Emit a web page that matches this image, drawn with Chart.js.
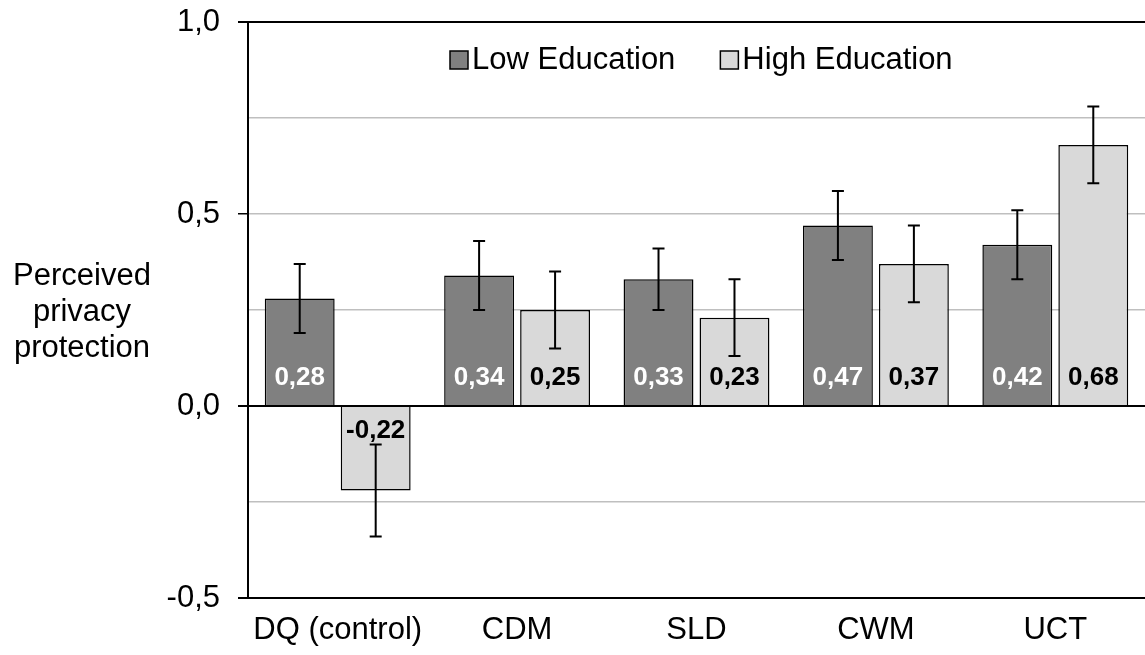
<!DOCTYPE html>
<html>
<head>
<meta charset="utf-8">
<script src="https://cdn.jsdelivr.net/npm/chart.js@4"></script>
<style>
  body { margin: 0; background: #fff; }
  #wrap { width: 1145px; height: 655px; }
</style>
</head>
<body>
<div id="wrap"><canvas id="chart"></canvas></div>
<script>
// valores
const categorias = ['DQ (control)', 'CDM', 'SLD', 'CWM', 'UCT'];
const lowEdu = [0.28, 0.34, 0.33, 0.47, 0.42];
const highEdu = [-0.22, 0.25, 0.23, 0.37, 0.68];
const lowErr = [0.09, 0.09, 0.08, 0.09, 0.09];
const highErr = [0.12, 0.10, 0.10, 0.10, 0.10];
const tituloY = ['Perceived', 'privacy', 'protection'];

const fonte = '"Liberation Sans", Arial, sans-serif';
const virgula = v => v.toFixed(2).replace('.', ',');

// barras de erro
const errorBars = {
    id: 'errorBars',
    afterDatasetsDraw(chart) {
        const ctx = chart.ctx;
        const y = chart.scales.y;
        ctx.save();
        ctx.strokeStyle = '#000';
        ctx.lineWidth = 2;
        chart.data.datasets.forEach((ds, i) => {
            chart.getDatasetMeta(i).data.forEach((bar, j) => {
                const v = ds.data[j], e = ds.err[j];
                const top = y.getPixelForValue(v + e);
                const bot = y.getPixelForValue(v - e);
                ctx.beginPath();
                ctx.moveTo(bar.x, top); ctx.lineTo(bar.x, bot);
                ctx.moveTo(bar.x - 6, top); ctx.lineTo(bar.x + 6, top);
                ctx.moveTo(bar.x - 6, bot); ctx.lineTo(bar.x + 6, bot);
                ctx.stroke();
            });
        });
        ctx.restore();
    }
};

// rótulos dentro das barras, junto ao zero
const valueLabels = {
    id: 'valueLabels',
    afterDraw(chart) {
        const ctx = chart.ctx;
        ctx.save();
        ctx.font = 'bold 26px ' + fonte;
        ctx.textAlign = 'center';
        ctx.textBaseline = 'middle';
        chart.data.datasets.forEach((ds, i) => {
            chart.getDatasetMeta(i).data.forEach((bar, j) => {
                const v = ds.data[j];
                ctx.fillStyle = i === 0 ? '#fff' : '#000';
                const yy = v >= 0 ? bar.base - 27 : bar.base + 24;
                ctx.fillText(virgula(v), bar.x, yy);
            });
        });
        ctx.restore();
    }
};

// legenda dentro da área do gráfico + título do eixo Y
const extras = {
    id: 'extras',
    afterDraw(chart) {
        const ctx = chart.ctx;
        ctx.save();
        ctx.font = '31px ' + fonte;
        ctx.textBaseline = 'middle';
        let x = 450;
        const ly = 60;
        chart.data.datasets.forEach(ds => {
            ctx.fillStyle = ds.backgroundColor;
            ctx.fillRect(x, ly - 9, 18, 18);
            ctx.strokeStyle = '#000';
            ctx.lineWidth = 1.5;
            ctx.strokeRect(x, ly - 9, 18, 18);
            ctx.fillStyle = '#000';
            ctx.fillText(ds.label, x + 22, ly);
            x += 22 + ctx.measureText(ds.label).width + 45;
        });
        ctx.font = '31px ' + fonte;
        ctx.textAlign = 'center';
        ctx.textBaseline = 'alphabetic';
        tituloY.forEach((t, k) => ctx.fillText(t, 82, 285 + k * 36));
        ctx.restore();
    }
};

const ehRotulo = v => Math.abs(v * 2 - Math.round(v * 2)) < 1e-9;
const ehPreta = v => Math.abs(v) < 1e-9 || Math.abs(v - 1) < 1e-9 || Math.abs(v + 0.5) < 1e-9;

new Chart(document.getElementById('chart'), {
    type: 'bar',
    data: {
        labels: categorias,
        datasets: [{
            label: 'Low Education',
            data: lowEdu,
            err: lowErr,
            backgroundColor: '#808080',
            borderColor: '#000',
            borderWidth: 1.5
        }, {
            label: 'High Education',
            data: highEdu,
            err: highErr,
            backgroundColor: '#d9d9d9',
            borderColor: '#000',
            borderWidth: 1.5
        }]
    },
    options: {
        responsive: true,
        maintainAspectRatio: false,
        animation: false,
        categoryPercentage: 0.847,
        barPercentage: 0.92,
        layout: { padding: { top: 22, right: 0, bottom: 0, left: 0 } },
        plugins: { legend: { display: false }, tooltip: { enabled: false } },
        scales: {
            x: {
                grid: { display: false },
                border: { display: true, color: '#000', width: 2 },
                ticks: { color: '#000', font: { family: fonte, size: 31 }, padding: 6 },
                afterFit: s => { s.height = 57; }
            },
            y: {
                min: -0.5,
                max: 1.0,
                border: { color: '#000', width: 2 },
                grid: {
                    color: c => ehPreta(c.tick.value) ? '#000' : '#bfbfbf',
                    lineWidth: c => ehPreta(c.tick.value) ? 2 : 1.5,
                    tickColor: c => ehRotulo(c.tick.value) ? '#000' : 'rgba(0,0,0,0)',
                    tickLength: 10
                },
                ticks: {
                    stepSize: 0.25,
                    color: '#000',
                    padding: 18,
                    font: { family: fonte, size: 31 },
                    callback: v => ehRotulo(v) ? v.toFixed(1).replace('.', ',') : ''
                },
                afterFit: s => { s.width = 248; s.paddingTop = 0; s.paddingBottom = 0; }
            }
        }
    },
    plugins: [errorBars, valueLabels, extras]
});
</script>
</body>
</html>
